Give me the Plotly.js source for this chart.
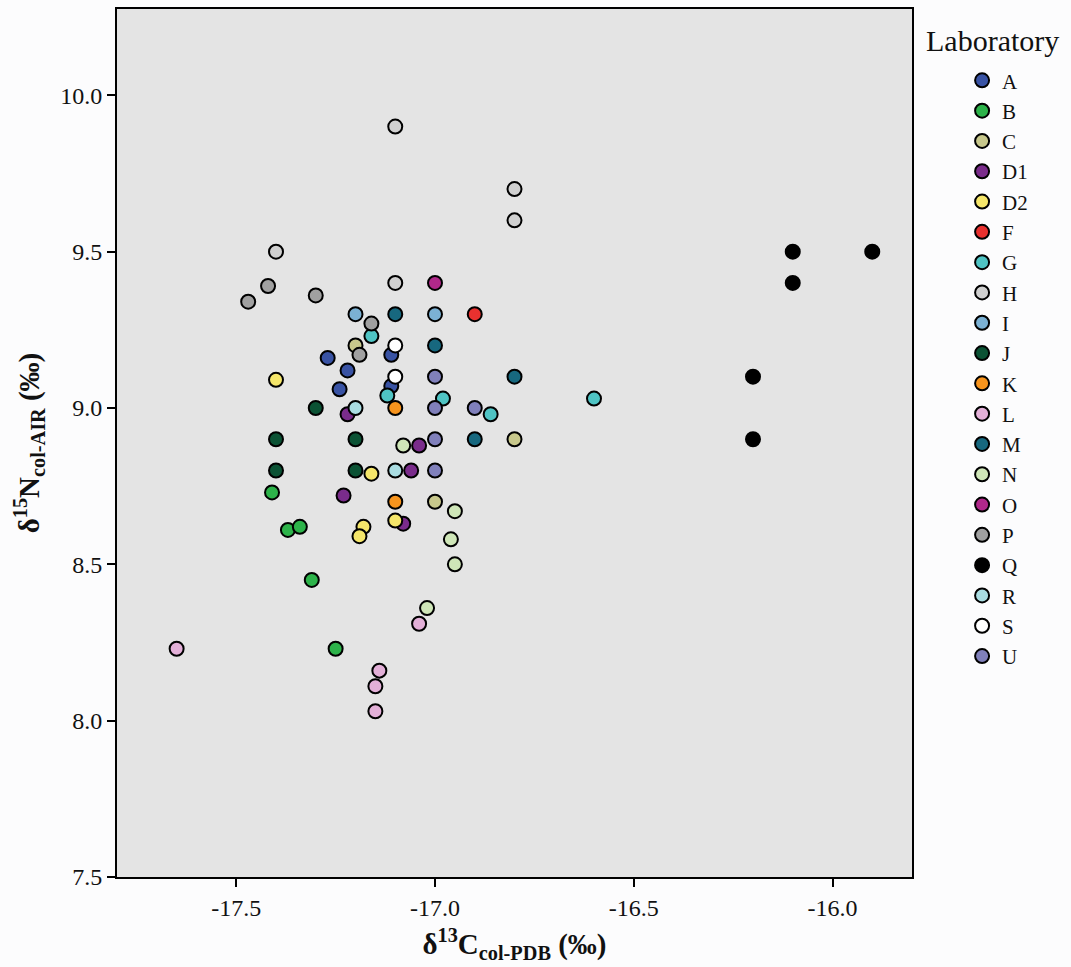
<!DOCTYPE html>
<html>
<head>
<meta charset="utf-8">
<script src="https://cdn.plot.ly/plotly-3.0.1.min.js"></script>
<style>
  html, body { margin: 0; padding: 0; background: #fcfcfd; }
  #chart { width: 1071px; height: 967px; }
</style>
</head>
<body>
<div id="chart"></div>
<script>
// Laboratories (legend order)
const labs = ["A","B","C","D1","D2","F","G","H","I","J","K","L","M","N","O","P","Q","R","S","U"];
const labColors = ["#3953a4","#2db34a","#c8c88c","#7a2c8b","#f5e66a","#e9312f","#4fc4c4","#d0d0d0","#7bb1d4","#0b5234",
                   "#f7941d","#e3b0d8","#17687f","#cfe6b8","#b0288a","#a0a0a0","#000000","#aadde2","#ffffff","#8080bb"];

// δ13C (x) and δ15N (y) per laboratory
const c13_A  = [-17.27, -17.22, -17.24, -17.11, -17.11];
const n15_A  = [9.16, 9.12, 9.06, 9.17, 9.07];
const c13_B  = [-17.41, -17.37, -17.34, -17.31, -17.25];
const n15_B  = [8.73, 8.61, 8.62, 8.45, 8.23];
const c13_C  = [-17.2, -16.8, -17.0];
const n15_C  = [9.2, 8.9, 8.7];
const c13_D1 = [-17.22, -17.23, -17.08, -17.06, -17.04];
const n15_D1 = [8.98, 8.72, 8.63, 8.80, 8.88];
const c13_D2 = [-17.4, -17.16, -17.18, -17.19, -17.1];
const n15_D2 = [9.09, 8.79, 8.62, 8.59, 8.64];
const c13_F  = [-16.9];
const n15_F  = [9.3];
const c13_G  = [-17.16, -17.12, -16.98, -16.86, -16.6];
const n15_G  = [9.23, 9.04, 9.03, 8.98, 9.03];
const c13_H  = [-17.1, -16.8, -16.8, -17.4, -17.1];
const n15_H  = [9.9, 9.7, 9.6, 9.5, 9.4];
const c13_I  = [-17.2, -17.0];
const n15_I  = [9.3, 9.3];
const c13_J  = [-17.3, -17.4, -17.4, -17.2, -17.2];
const n15_J  = [9.0, 8.9, 8.8, 8.9, 8.8];
const c13_K  = [-17.1, -17.1];
const n15_K  = [9.0, 8.7];
const c13_L  = [-17.65, -17.04, -17.14, -17.15, -17.15];
const n15_L  = [8.23, 8.31, 8.16, 8.11, 8.03];
const c13_M  = [-17.1, -17.0, -16.8, -16.9];
const n15_M  = [9.3, 9.2, 9.1, 8.9];
const c13_N  = [-17.08, -16.95, -16.96, -16.95, -17.02];
const n15_N  = [8.88, 8.67, 8.58, 8.50, 8.36];
const c13_O  = [-17.0];
const n15_O  = [9.4];
const c13_P  = [-17.47, -17.42, -17.3, -17.16, -17.19];
const n15_P  = [9.34, 9.39, 9.36, 9.27, 9.17];
const c13_Q  = [-16.1, -15.9, -16.1, -16.2, -16.2];
const n15_Q  = [9.5, 9.5, 9.4, 9.1, 8.9];
const c13_R  = [-17.2, -17.1];
const n15_R  = [9.0, 8.8];
const c13_S  = [-17.1, -17.1];
const n15_S  = [9.2, 9.1];
const c13_U  = [-17.0, -17.0, -16.9, -17.0, -17.0];
const n15_U  = [9.1, 9.0, 9.0, 8.9, 8.8];

const xData = [c13_A,c13_B,c13_C,c13_D1,c13_D2,c13_F,c13_G,c13_H,c13_I,c13_J,c13_K,c13_L,c13_M,c13_N,c13_O,c13_P,c13_Q,c13_R,c13_S,c13_U];
const yData = [n15_A,n15_B,n15_C,n15_D1,n15_D2,n15_F,n15_G,n15_H,n15_I,n15_J,n15_K,n15_L,n15_M,n15_N,n15_O,n15_P,n15_Q,n15_R,n15_S,n15_U];

const xTickVals = [-17.5, -17.0, -16.5, -16.0];
const xTickText = ["-17.5", "-17.0", "-16.5", "-16.0"];
const yTickVals = [7.5, 8.0, 8.5, 9.0, 9.5, 10.0];
const yTickText = ["7.5", "8.0", "8.5", "9.0", "9.5", "10.0"];

const serif = "Liberation Serif, Times New Roman, serif";

const traces = labs.map((lab, i) => ({
  type: "scatter",
  mode: "markers",
  name: lab,
  x: xData[i],
  y: yData[i],
  marker: { size: 14, color: labColors[i], line: { color: "#000", width: 2 } },
  hoverinfo: "x+y+name"
}));

const layout = {
  width: 1071,
  height: 967,
  margin: { l: 117, r: 159, t: 9, b: 90 },
  paper_bgcolor: "#fcfcfd",
  plot_bgcolor: "#e4e4e4",
  font: { family: serif, color: "#111" },
  showlegend: true,
  legend: {
    x: 1.063, xanchor: "left",
    y: 0.941, yanchor: "top",
    font: { family: serif, size: 21, color: "#111" },
    bgcolor: "rgba(0,0,0,0)",
    itemclick: false
  },
  annotations: [{
    text: "Laboratory",
    xref: "paper", yref: "paper",
    x: 1.0155, y: 0.964,
    xanchor: "left", yanchor: "middle",
    showarrow: false,
    font: { family: serif, size: 30, color: "#111" }
  }],
  xaxis: {
    range: [-17.8, -15.8],
    tickmode: "array",
    tickvals: xTickVals,
    ticktext: xTickText,
    ticks: "outside", ticklen: 8, tickwidth: 2, tickcolor: "#000",
    tickfont: { family: serif, size: 24, color: "#111" },
    showgrid: false, zeroline: false,
    showline: true, linecolor: "#000", linewidth: 2, mirror: true,
    title: {
      text: "δ<sup>13</sup>C<sub>col-PDB</sub> (‰)",
      font: { family: serif, size: 29, color: "#111", weight: "bold" },
      standoff: 14
    }
  },
  yaxis: {
    range: [7.5, 10.276],
    tickmode: "array",
    tickvals: yTickVals,
    ticktext: yTickText,
    ticks: "outside", ticklen: 8, tickwidth: 2, tickcolor: "#000",
    tickfont: { family: serif, size: 24, color: "#111" },
    showgrid: false, zeroline: false,
    showline: true, linecolor: "#000", linewidth: 2, mirror: true,
    title: {
      text: "δ<sup>15</sup>N<sub>col-AIR</sub> (‰)",
      font: { family: serif, size: 29, color: "#111", weight: "bold" },
      standoff: 12
    }
  }
};

Plotly.newPlot("chart", traces, layout, { displayModeBar: false, staticPlot: true });
</script>
</body>
</html>
